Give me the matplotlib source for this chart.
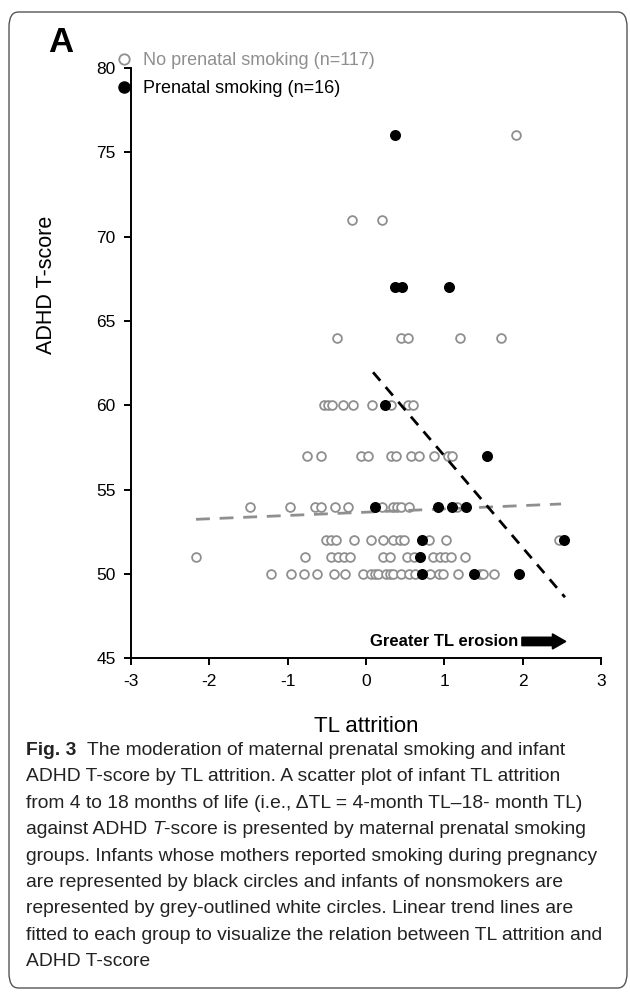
import matplotlib
matplotlib.use("Agg")
import matplotlib.pyplot as plt
from matplotlib.patches import FancyBboxPatch
from matplotlib.lines import Line2D

plt.rcParams['font.family'] = ['Liberation Sans', 'DejaVu Sans']
plt.rcParams['axes.unicode_minus'] = False

# ---- data ----
# no prenatal smoking (open grey circles), row by row of ADHD T-score
ns_tl = [-1.21, -0.96, -0.79, -0.63, -0.41, -0.27, -0.04, 0.06, 0.11, 0.15, 0.25, 0.30, 0.34, 0.45,
         0.55, 0.62, 0.82, 0.93, 0.98, 1.18, 1.46, 1.49, 1.63,
         -2.17, -0.78, -0.45, -0.36, -0.28, -0.20, 0.22, 0.31, 0.52, 0.61, 0.85, 0.94, 1.01, 1.09, 1.27,
         -0.51, -0.45, -0.38, -0.15, 0.06, 0.22, 0.35, 0.44, 0.49, 0.81, 1.02, 2.47,
         -1.48, -0.97, -0.65, -0.57, -0.40, -0.23, 0.20, 0.34, 0.40, 0.45, 0.55, 1.16,
         -0.75, -0.57, -0.07, 0.03, 0.32, 0.38, 0.58, 0.68, 0.87, 1.05, 1.10,
         -0.53, -0.49, -0.43, -0.30, -0.17, 0.08, 0.32, 0.54, 0.60,
         -0.37, 0.45, 0.54, 1.20, 1.72,
         -0.18, 0.21,
         1.92]
ns_adhd = [50] * 23 + [51] * 15 + [52] * 12 + [54] * 12 + [57] * 11 + [60] * 9 + [64] * 5 + [71] * 2 + [76]

# prenatal smoking (black dots)
sm_tl = [0.72, 1.38, 1.95, 0.69, 0.72, 2.53, 0.11, 0.92, 1.10, 1.28, 1.55, 0.24, 0.37, 0.46, 1.06, 0.37]
sm_adhd = [50, 50, 50, 51, 52, 52, 54, 54, 54, 54, 57, 60, 67, 67, 67, 76]

# fitted trend lines (end points as drawn)
ns_fit_x = [-2.17, 2.49]
ns_fit_y = [53.24, 54.15]
sm_fit_x = [0.09, 2.54]
sm_fit_y = [61.96, 48.62]

x_ticks = [-3, -2, -1, 0, 1, 2, 3]
y_ticks = [45, 50, 55, 60, 65, 70, 75, 80]

caption = [
    "The moderation of maternal prenatal smoking and infant",
    "ADHD T-score by TL attrition. A scatter plot of infant TL attrition",
    "from 4 to 18 months of life (i.e., \u0394TL = 4-month TL\u201318- month TL)",
    None,
    "groups. Infants whose mothers reported smoking during pregnancy",
    "are represented by black circles and infants of nonsmokers are",
    "represented by grey-outlined white circles. Linear trend lines are",
    "fitted to each group to visualize the relation between TL attrition and",
    "ADHD T-score",
]

W, H = 630, 992
fig = plt.figure(figsize=(W / 100, H / 100), dpi=100)

# rounded frame around panel + caption
frame = FancyBboxPatch((9 / W, 1 - 988 / H), 618 / W, 976 / H,
                       boxstyle="round,pad=0,rounding_size=0.015",
                       transform=fig.transFigure, facecolor='none',
                       edgecolor='#555555', linewidth=1.0)
fig.patches.append(frame)

ax = fig.add_axes([131 / W, 1 - 658.3 / H, 470 / W, 590.3 / H])

grey = '#8f8f8f'
ax.scatter(ns_tl, ns_adhd, s=40, facecolor='white', edgecolor=grey, linewidth=1.3, zorder=2)
ax.plot(ns_fit_x, ns_fit_y, color=grey, lw=2, dashes=(5, 3.5), zorder=3)
ax.plot(sm_fit_x, sm_fit_y, color='black', lw=2, dashes=(4, 3), zorder=3)
ax.scatter(sm_tl, sm_adhd, s=48, color='black', zorder=4)

ax.set_xlim(-3, 3)
ax.set_ylim(45, 80)
ax.set_xticks(x_ticks)
ax.set_yticks(y_ticks)
ax.spines['top'].set_visible(False)
ax.spines['right'].set_visible(False)
for s in ['left', 'bottom']:
    ax.spines[s].set_linewidth(1.4)
ax.tick_params(axis='both', direction='out', length=5, width=1.4, labelsize=12.5, pad=6)

ax.set_ylabel('ADHD T-score', fontsize=15.5)
ax.yaxis.set_label_coords(-0.158, 0.632)
ax.set_xlabel('TL attrition', fontsize=16)
ax.xaxis.set_label_coords(0.5, -0.097)

# "Greater TL erosion" arrow note
ax.text(2.0, 46.0, 'Greater TL erosion ', fontsize=12, fontweight='bold', ha='right', va='center')
ax.arrow(1.99, 46.0, 0.56, 0, width=0.5, head_width=0.9, head_length=0.17,
         length_includes_head=True, color='black', clip_on=False)

handles = [
    Line2D([], [], ls='none', marker='o', ms=7.5, mfc='white', mec=grey, mew=1.3),
    Line2D([], [], ls='none', marker='o', ms=8, mfc='black', mec='black'),
]
fig.legend(handles, ['No prenatal smoking (n=117)', 'Prenatal smoking (n=16)'],
           loc='upper left', bbox_to_anchor=(116 / W, 1 - 52 / H), frameon=False,
           fontsize=13, labelcolor=[grey, 'black'], handletextpad=0.6,
           handlelength=0.9, labelspacing=0.6, borderpad=0, borderaxespad=0)

fig.text(48 / W, 1 - 52 / H, 'A', fontsize=25, fontweight='bold', va='baseline')

# caption
cap_font = ['Liberation Sans', 'DejaVu Sans']
cap_size = 13.9
renderer = fig.canvas.get_renderer()


def put(x, y, txt, **kw):
    t = fig.text(x, y, txt, fontsize=cap_size, family=cap_font, va='baseline', color='#222222', **kw)
    return t, x + t.get_window_extent(renderer).width / W


def width_of(txt):
    t, x = put(0, 0.5, txt)
    t.remove()
    return x


space = width_of('a a') - width_of('aa')
x0 = 26 / W
y0 = 1 - 755 / H
step = 26.4 / H
for i, line in enumerate(caption):
    y = y0 - i * step
    if i == 0:
        _, x = put(x0, y, 'Fig. 3', fontweight='bold')
        put(x + 2 * space, y, line)
    elif line is None:
        _, x = put(x0, y, 'against ADHD')
        _, x = put(x + space, y, 'T', style='italic')
        put(x, y, '-score is presented by maternal prenatal smoking')
    else:
        put(x0, y, line)

fig.savefig('out.png', dpi=100)
